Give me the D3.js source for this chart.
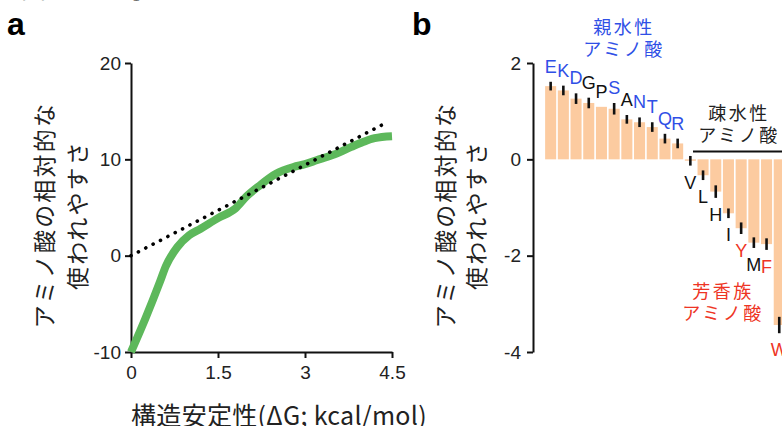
<!DOCTYPE html>
<html>
<head>
<meta charset="utf-8">
<script src="https://cdn.jsdelivr.net/npm/d3@7"></script>
<style>
  body { margin: 0; background: #fff; }
  text { font-family: "Liberation Sans", Arial, "Noto Sans CJK JP", sans-serif; }
  .jp { font-family: "Noto Sans CJK JP", sans-serif; }
</style>
</head>
<body>
<script>
// panel a: stability vs. usage
var stabX   = [0, 0.25, 0.5, 0.6, 0.8, 1.0, 1.2, 1.5, 1.8, 2.0, 2.2, 2.5, 2.8, 3.0, 3.2, 3.5, 3.8, 4.0, 4.2, 4.5];
var usageY  = [-10, -6.5, -2.7, -1.1, 0.9, 2.1, 2.8, 3.9, 4.9, 6.2, 7.2, 8.5, 9.2, 9.5, 9.9, 10.5, 11.3, 11.8, 12.2, 12.4];
var fitX    = [0, 4.4];
var fitY    = [0, 13.8];
var aTicksX = [0, 1.5, 3, 4.5];
var aTicksY = [-10, 0, 10, 20];

// panel b: relative usage per amino acid
var aminoAcids = ["E","K","D","G","P","S","A","N","T","Q","R","V","L","H","I","Y","M","F","W"];
var usageDiff  = [1.52, 1.43, 1.26, 1.17, 1.09, 1.05, 0.83, 0.77, 0.67, 0.43, 0.33, -0.03, -0.33, -0.67, -1.12, -1.43, -1.73, -1.76, -3.44];
var usageErr   = [0.09, 0.10, 0.11, 0.11, 0, 0.12, 0.09, 0.10, 0.10, 0.10, 0.10, 0.10, 0.10, 0.13, 0.10, 0.12, 0.11, 0.12, 0.17];
var hydrophilic = ["E","K","D","S","N","T","Q","R"];
var aromatic    = ["Y","F","W"];
var bTicksY = [-4, -2, 0, 2];

var yLabel = ["アミノ酸の相対的な", "使われやすさ"];
var xLabel = "構造安定性(ΔG; kcal/mol)";

var blue = "#2f4fe6", red = "#ee3424";
var plain = function(d){ return String(d).replace("\u2212", "-"); };

var svg = d3.select("body").append("svg")
	.attr("width", 782)
	.attr("height", 426);

// cut-off line of body text at top
svg.append("text").attr("class","jp")
	.attr("x", -4).attr("y", -2)
	.attr("font-size", 25).attr("fill", "#222")
	.text("適図すると考えられます。");

svg.append("text").attr("x", 7).attr("y", 35)
	.attr("font-size", 32).attr("font-weight", "bold").text("a");
svg.append("text").attr("x", 412).attr("y", 35)
	.attr("font-size", 32).attr("font-weight", "bold").text("b");

// ---------- panel a ----------
var xa = d3.scaleLinear().domain([0, 4.5]).range([131, 392]);
var ya = d3.scaleLinear().domain([-10, 20]).range([352, 63]);

var axA_y = svg.append("g").attr("transform", "translate(131,0)")
	.call(d3.axisLeft(ya).tickValues(aTicksY).tickFormat(plain).tickSize(6).tickSizeOuter(0).tickPadding(4));
var axA_x = svg.append("g").attr("transform", "translate(0,352)")
	.call(d3.axisBottom(xa).tickValues(aTicksX).tickFormat(plain).tickSize(6).tickSizeOuter(0).tickPadding(8));

[axA_y, axA_x].forEach(function(g){
	g.selectAll("path, line").attr("stroke", "#111").attr("stroke-width", 2);
	g.selectAll("text").attr("font-size", 19).attr("fill", "#222")
		.style("font-family", "'Liberation Sans', Arial, sans-serif");
});

var curveData = stabX.map(function(x, i){ return [x, usageY[i]]; });
svg.append("path")
	.datum(curveData)
	.attr("fill", "none")
	.attr("stroke", "#5db85b")
	.attr("stroke-width", 8)
	.attr("stroke-linecap", "butt")
	.attr("d", d3.line().x(function(d){return xa(d[0]);}).y(function(d){return ya(d[1]);}).curve(d3.curveMonotoneX));

svg.append("path")
	.datum(fitX.map(function(x, i){ return [x, fitY[i]]; }))
	.attr("fill", "none")
	.attr("stroke", "#000")
	.attr("stroke-width", 3.6)
	.attr("stroke-linecap", "round")
	.attr("stroke-dasharray", "0.1,8.2")
	.attr("d", d3.line().x(function(d){return xa(d[0]);}).y(function(d){return ya(d[1]);}));

function yTitle(cx1, cx2, cy){
	[cx1, cx2].forEach(function(cx, i){
		svg.append("text").attr("class", "jp")
			.attr("transform", "translate(" + cx + "," + cy + ") rotate(-90)")
			.attr("text-anchor", "middle")
			.attr("dy", "0.36em")
			.attr("font-size", 23)
			.attr("letter-spacing", 2.2)
			.attr("fill", "#222")
			.text(yLabel[i]);
	});
}
yTitle(45, 78, 215);

svg.append("text").attr("class", "jp")
	.attr("x", 279).attr("y", 425)
	.attr("text-anchor", "middle")
	.attr("font-size", 25)
	.attr("letter-spacing", 0.3)
	.attr("fill", "#222")
	.text(xLabel);

// ---------- panel b ----------
var xb = d3.scaleBand().domain(aminoAcids).range([544.3, 544.3 + 12.7 * aminoAcids.length]).paddingInner(0.13).paddingOuter(0.065);
var yb = d3.scaleLinear().domain([-4, 2]).range([352, 63]);

var axB = svg.append("g").attr("transform", "translate(533,0)")
	.call(d3.axisLeft(yb).tickValues(bTicksY).tickFormat(plain).tickSize(6).tickSizeOuter(0).tickPadding(6));
axB.selectAll("path, line").attr("stroke", "#111").attr("stroke-width", 2);
axB.selectAll("text").attr("font-size", 19).attr("fill", "#222");

var bars = aminoAcids.map(function(a, i){ return {aa: a, v: usageDiff[i], e: usageErr[i]}; });

svg.append("g").selectAll("rect")
	.data(bars).enter().append("rect")
	.attr("x", function(d){ return xb(d.aa); })
	.attr("width", xb.bandwidth())
	.attr("y", function(d){ return yb(Math.max(0, d.v)); })
	.attr("height", function(d){ return Math.abs(yb(d.v) - yb(0)); })
	.attr("fill", "#fccba0");

svg.append("g").selectAll("line")
	.data(bars.filter(function(d){ return d.e > 0; })).enter().append("line")
	.attr("x1", function(d){ return xb(d.aa) + xb.bandwidth() / 2; })
	.attr("x2", function(d){ return xb(d.aa) + xb.bandwidth() / 2; })
	.attr("y1", function(d){ return yb(d.v + d.e); })
	.attr("y2", function(d){ return yb(d.v - d.e); })
	.attr("stroke", "#111")
	.attr("stroke-width", 2.6);

function aaColor(a){
	if (hydrophilic.indexOf(a) >= 0) return blue;
	if (aromatic.indexOf(a) >= 0) return red;
	return "#111";
}

svg.append("g").selectAll("text")
	.data(bars).enter().append("text")
	.attr("x", function(d){ return xb(d.aa) + xb.bandwidth() / 2; })
	.attr("y", function(d){ return d.v > 0 ? yb(d.v + d.e) - 9 : yb(d.v - d.e) + 23; })
	.attr("text-anchor", "middle")
	.attr("font-size", 18)
	.attr("fill", function(d){ return aaColor(d.aa); })
	.text(function(d){ return d.aa; });

yTitle(446, 477, 215);

// group annotations
function note(lines, cx, y0, color){
	lines.forEach(function(t, i){
		svg.append("text").attr("class", "jp")
			.attr("x", cx).attr("y", y0 + i * 22)
			.attr("text-anchor", "middle")
			.attr("font-size", 18)
			.attr("letter-spacing", 2.5)
			.attr("fill", color)
			.text(t);
	});
}
note(["親水性", "アミノ酸"], 624, 34, blue);
note(["疎水性", "アミノ酸"], 739, 120, "#222");
note(["芳香族", "アミノ酸"], 723, 298, red);

svg.append("line")
	.attr("x1", 693).attr("x2", 782)
	.attr("y1", 151.5).attr("y2", 151.5)
	.attr("stroke", "#111").attr("stroke-width", 2);
</script>
</body>
</html>
